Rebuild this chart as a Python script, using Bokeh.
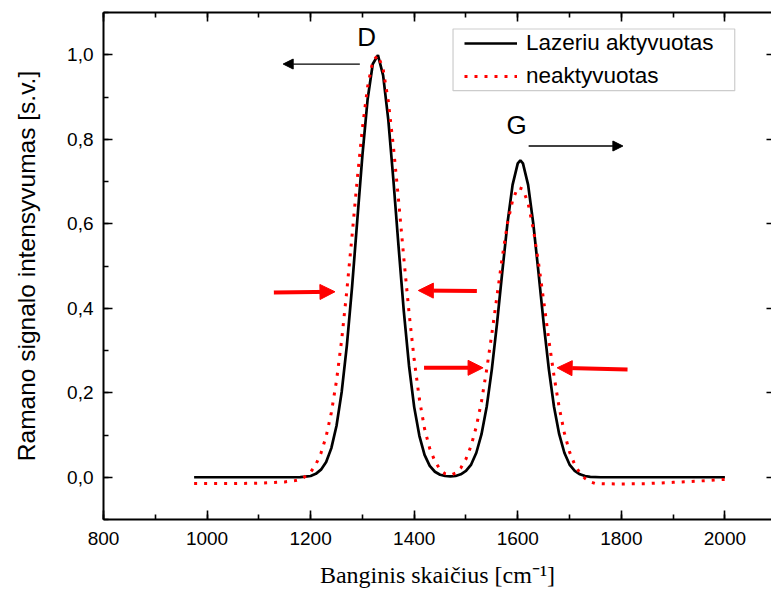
from bokeh.plotting import figure
from bokeh.models import (Range1d, LinearAxis, SingleIntervalTicker, CustomJSTickFormatter,
                          Legend, LegendItem, Label, Arrow, NormalHead, BoxAnnotation)
from bokeh.embed import file_html
from bokeh.resources import INLINE

# ---- data ----
wavenumber_activated = [975, 1050, 1100, 1150, 1180, 1190, 1200, 1210, 1220, 1230, 1240, 1250,
                        1260, 1270, 1280, 1290, 1300, 1310, 1320, 1330, 1340, 1350, 1360, 1370,
                        1380, 1390, 1400, 1410, 1420, 1430, 1440, 1450, 1460, 1470, 1480, 1490,
                        1500, 1510, 1520, 1530, 1540, 1550, 1560, 1570, 1580, 1590, 1600, 1605,
                        1610, 1620, 1630, 1640, 1650, 1660, 1670, 1680, 1690, 1700, 1710, 1720,
                        1730, 1740, 1760, 1850, 2000]
intensity_activated = [0.0, 0.0, 0.0, 0.0, 0.0005, 0.0014, 0.003, 0.008, 0.018, 0.036, 0.069, 0.122,
                       0.202, 0.312, 0.450, 0.607, 0.762, 0.894, 0.978, 0.999, 0.951, 0.846, 0.701, 0.543,
                       0.392, 0.264, 0.166, 0.098, 0.053, 0.027, 0.013, 0.006, 0.003, 0.002, 0.003, 0.007,
                       0.015, 0.030, 0.058, 0.102, 0.167, 0.256, 0.365, 0.485, 0.600, 0.692, 0.743, 0.750,
                       0.743, 0.692, 0.600, 0.485, 0.365, 0.256, 0.167, 0.102, 0.058, 0.030, 0.015, 0.007,
                       0.003, 0.001, 0.0, 0.0, 0.0]

wavenumber_inactive = [975, 1050, 1100, 1150, 1170, 1180, 1190, 1200, 1210, 1220, 1230, 1240, 1250,
                       1260, 1270, 1280, 1290, 1300, 1310, 1320, 1330, 1340, 1350, 1360, 1370,
                       1380, 1390, 1400, 1410, 1420, 1430, 1440, 1450, 1460, 1470, 1480, 1490,
                       1500, 1510, 1520, 1530, 1540, 1550, 1560, 1570, 1580, 1590, 1600,
                       1610, 1620, 1630, 1640, 1650, 1660, 1670, 1680, 1690, 1700, 1710, 1720,
                       1730, 1740, 1750, 1800, 1850, 1900, 1950, 2000]
intensity_inactive = [-0.015, -0.015, -0.014, -0.011, -0.008, -0.005, 0.002, 0.012, 0.030, 0.057, 0.097, 0.153, 0.229,
                      0.326, 0.443, 0.572, 0.705, 0.827, 0.924, 0.985, 0.999, 0.966, 0.890, 0.781, 0.653,
                      0.518, 0.390, 0.278, 0.185, 0.115, 0.068, 0.038, 0.018, 0.008, 0.005, 0.010, 0.022,
                      0.043, 0.075, 0.120, 0.180, 0.255, 0.340, 0.430, 0.520, 0.600, 0.655, 0.686,
                      0.682, 0.648, 0.588, 0.508, 0.418, 0.325, 0.240, 0.165, 0.105, 0.060, 0.030, 0.010,
                      -0.003, -0.011, -0.015, -0.016, -0.015, -0.012, -0.009, -0.005]

series_labels = ["Lazeriu aktyvuotas", "neaktyvuotas"]
x_title = "Banginis skaičius [cm\u207b\u00b9]"
y_title = "Ramano signalo intensyvumas [s.v.]"
peak_labels = ["D", "G"]

SANS = "Liberation Sans"
SERIF = "Liberation Serif"

p = figure(width=771, height=593, output_backend="svg", toolbar_location=None,
           x_range=Range1d(800, 2090), y_range=Range1d(-0.1, 1.1),
           min_border_left=103, min_border_right=0, min_border_top=12, min_border_bottom=74)
p.xgrid.visible = False
p.ygrid.visible = False
p.outline_line_color = None
p.background_fill_color = "white"
p.border_fill_color = "white"


def style_axis(ax, major_in=9, minor_in=5):
    ax.axis_line_width = 2
    ax.axis_line_color = "black"
    ax.major_tick_in = major_in
    ax.major_tick_out = 0
    ax.minor_tick_in = minor_in
    ax.minor_tick_out = 0
    ax.major_tick_line_width = 1.6
    ax.minor_tick_line_width = 1.6
    ax.major_tick_line_color = "black"
    ax.minor_tick_line_color = "black" if minor_in > 0 else None
    ax.major_label_text_font = SANS
    ax.major_label_text_color = "black"


xb = p.xaxis[0]
xb.ticker = SingleIntervalTicker(interval=200, num_minor_ticks=2)
style_axis(xb)
xb.major_label_text_font_size = "19px"
xb.major_label_standoff = 12
xb.axis_label = x_title
xb.axis_label_text_font = SERIF
xb.axis_label_text_font_size = "24px"
xb.axis_label_text_font_style = "normal"
xb.axis_label_text_color = "black"
xb.axis_label_standoff = 14

yl = p.yaxis[0]
yl.ticker = SingleIntervalTicker(interval=0.2, num_minor_ticks=2)
style_axis(yl)
yl.major_label_text_font_size = "19px"
yl.major_label_standoff = 10
yl.formatter = CustomJSTickFormatter(code="return tick.toFixed(1).replace('.', ',');")
yl.axis_label = y_title
yl.axis_label_text_font = SANS
yl.axis_label_text_font_size = "24.5px"
yl.axis_label_text_font_style = "normal"
yl.axis_label_text_color = "black"
yl.axis_label_standoff = 24

blank = CustomJSTickFormatter(code="return '';")

top = LinearAxis(ticker=SingleIntervalTicker(interval=200, num_minor_ticks=2), formatter=blank)
style_axis(top)
top.major_label_text_font_size = "1px"
top.major_label_standoff = 0
p.add_layout(top, "above")

right = LinearAxis(ticker=SingleIntervalTicker(interval=0.2, num_minor_ticks=2), formatter=blank)
style_axis(right, major_in=5, minor_in=0)
right.axis_line_color = None
right.major_label_text_font_size = "1px"
right.major_label_standoff = 0
p.add_layout(right, "right")

r_black = p.line(wavenumber_activated, intensity_activated, line_color="black", line_width=2.7)
r_red = p.line(wavenumber_inactive, intensity_inactive, line_color="red", line_width=3,
               line_dash="3 7", line_cap="butt")

# legend frame (drawn separately so its padding can differ horizontally / vertically)
p.add_layout(BoxAnnotation(left=1475, right=2019, top=1.061, bottom=0.915,
                           fill_color="white", fill_alpha=1,
                           line_color="#555555", line_width=1.2, level="annotation"))

legend = Legend(items=[LegendItem(label=series_labels[0], renderers=[r_black]),
                       LegendItem(label=series_labels[1], renderers=[r_red])],
                location=(361, 430), orientation="vertical",
                label_text_font=SANS, label_text_font_size="22.5px", label_text_color="black",
                glyph_width=53, glyph_height=20, label_standoff=9, label_height=20,
                spacing=7, padding=0, margin=0,
                border_line_color=None, background_fill_alpha=0)
p.add_layout(legend)

# peak labels
p.add_layout(Label(x=1308, y=1.042, text=peak_labels[0], text_font=SANS, text_font_size="26px",
                   text_align="center", text_baseline="middle", text_color="black"))
p.add_layout(Label(x=1598, y=0.833, text=peak_labels[1], text_font=SANS, text_font_size="26px",
                   text_align="center", text_baseline="middle", text_color="black"))

# black shift arrows
p.add_layout(Arrow(end=NormalHead(size=10, fill_color="black", line_color="black"),
                   x_start=1295, y_start=0.978, x_end=1147, y_end=0.978,
                   line_color="black", line_width=1.3))
p.add_layout(Arrow(end=NormalHead(size=10, fill_color="black", line_color="black"),
                   x_start=1621, y_start=0.784, x_end=1803, y_end=0.784,
                   line_color="black", line_width=1.3))

# red width arrows
for xs, ys, xe, ye in [(1129, 0.437, 1247, 0.439), (1521, 0.441, 1408, 0.442),
                       (1419, 0.259, 1533, 0.259), (1812, 0.255, 1676, 0.259)]:
    p.add_layout(Arrow(end=NormalHead(size=15, fill_color="red", line_color="red"),
                       x_start=xs, y_start=ys, x_end=xe, y_end=ye,
                       line_color="red", line_width=4))

open("out.html", "w").write(file_html(p, INLINE))
